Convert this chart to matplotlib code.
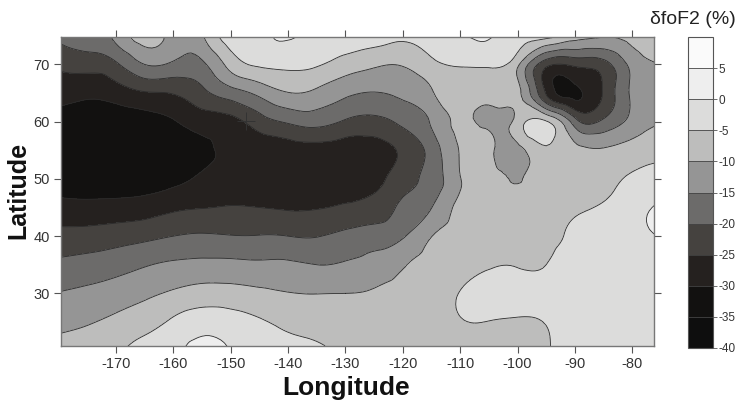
import numpy as np
import matplotlib
matplotlib.use("Agg")
import matplotlib.pyplot as plt
import matplotlib.tri as mtri

plt.rcParams["font.family"] = ["Liberation Sans", "DejaVu Sans"]
plt.rcParams["axes.unicode_minus"] = False

# grid nodes (degrees)
lons = [-180, -175, -170, -165, -160, -155, -150, -145, -140, -135, -130,
        -125, -120, -115, -110, -105, -100, -95, -90, -85, -80, -75]
lats = [75, 70, 65, 60, 55, 50, 45, 40, 35, 30, 25, 20]

# dfoF2 (%) on the grid, one row per latitude
lat75 = [-19, -17.6, -13.8, -6.5, -12.5, -10.5, -1.5, -0.5, 0.5, -1.5, -2, -1.5, -4, -2.5, -0.5, 0.5, -3.5, -3, -8, -9.5, -8.5, -7.5]
lat70 = [-24, -23, -20.8, -15, -16, -16, -8.1, -4.3, -3.8, -4.5, -7.2, -9.2, -9.6, -6.3, -4.5, -4, -9, -23.5, -24, -22, -13.5, -10]
lat65 = [-28.1, -28.9, -27.7, -25.5, -24.7, -21.3, -17.3, -13.7, -10.2, -11.2, -14, -15.2, -14, -10.5, -6.5, -7.5, -8.5, -25.5, -31, -24.5, -14, -12]
lat60 = [-31.5, -32.5, -32.5, -31.5, -30.3, -27.8, -26.5, -22.4, -19.4, -18.2, -20.6, -21.4, -19, -14.5, -9, -11.5, -8, -4.5, -17.7, -19, -13.5, -10.2]
lat55 = [-33.5, -34.5, -34.5, -34, -33, -31.5, -28.5, -28.5, -27.5, -27, -27.5, -27.3, -24, -18, -9.7, -9, -11.5, -6, -8.5, -9.5, -7.5, -6]
lat50 = [-32.5, -33, -33, -32.5, -31.2, -29.1, -27.5, -28.5, -28, -28.3, -28, -27, -22, -18, -10.2, -8, -10.2, -7.5, -7.3, -6.5, -4.5, -3.5]
lat45 = [-28.3, -28.5, -28.2, -27.6, -26, -25.2, -24.7, -25, -25.5, -25.3, -24.4, -22.8, -19.1, -15.1, -8.5, -7.5, -8, -7, -5.8, -4.5, -2, 1]
lat40 = [-23.4, -23.1, -22.3, -21.3, -20, -19.4, -19.8, -19.8, -20, -20.2, -18.6, -17.5, -15.5, -10.1, -7.5, -6.5, -6.5, -6, -4.3, -3, -1.5, 0.2]
lat35 = [-18.9, -18.1, -17, -15.4, -14.2, -13.7, -13.7, -14.1, -14.2, -15, -14.5, -13.3, -10.4, -8, -6.5, -5.3, -5.2, -5, -3, -2.5, -2.5, -2.5]
lat30 = [-14.8, -13.9, -12.6, -11, -9.3, -8, -8.1, -8.9, -9.8, -10.1, -10, -9.4, -8.2, -7.5, -4.8, -3.5, -3.5, -3.5, -2.5, -2.5, -2.5, -2.5]
lat25 = [-11.4, -10.4, -8.9, -6.9, -4.2, -2.1, -2.8, -4.5, -6, -6.8, -7.8, -8, -7.5, -7.5, -5.3, -5.1, -5.5, -4.8, -2.5, -2.5, -2.5, -2.5]
lat20 = [-8, -7.2, -6, -2.5, -1.5, 2.5, -0.2, -2, -3.5, -3.8, -6.5, -7, -7, -7.5, -6.5, -6.5, -7, -5.5, -2.5, -2.5, -2.5, -2.5]

# station marker
station_lon = [-147.4]
station_lat = [60.1]

levels = [-40, -35, -30, -25, -20, -15, -10, -5, 0, 5, 10]
level_labels = ["-40", "-35", "-30", "-25", "-20", "-15", "-10", "-5", "0", "5"]
greys = ["#0e0e0e", "#121110", "#25211f", "#45423f", "#6c6b6a",
         "#959595", "#bdbdbc", "#dcdcdb", "#eeeeee", "#fafafa"]

grid = np.array([lat75, lat70, lat65, lat60, lat55, lat50,
                 lat45, lat40, lat35, lat30, lat25, lat20])
X, Y = np.meshgrid(lons, lats)

tri = mtri.Triangulation(X.ravel(), Y.ravel())
refiner = mtri.UniformTriRefiner(tri)
tri_f, z_f = refiner.refine_field(grid.ravel(), subdiv=3)
z_f = np.clip(z_f, -39.9, 9.9)

fig = plt.figure(figsize=(7.4, 4.03), dpi=100)
ax = fig.add_axes([61 / 740, 57 / 403, 593 / 740, 309 / 403])

cf = ax.tricontourf(tri_f, z_f, levels=levels, colors=greys)
ax.tricontour(tri_f, z_f, levels=levels[1:-1], colors="#2b2b2b",
              linewidths=0.6, linestyles="solid")
ax.plot(station_lon, station_lat, marker="+", markersize=13, mew=0.7,
        color="#333333", linestyle="none")

ax.set_xlim(-179.6, -76.2)
ax.set_ylim(20.8, 74.8)
ax.set_xticks(range(-170, -79, 10))
ax.set_yticks(range(30, 71, 10))
ax.tick_params(direction="out", top=True, right=True, length=5, width=0.8,
               color="#555555", labelcolor="#333333", labelsize=10.5, pad=3)
for sp in ax.spines.values():
    sp.set_color("#777777")
    sp.set_linewidth(1.0)

fig.text(18 / 740, 1 - 190 / 403, "Latitude", rotation=90, fontsize=18,
         fontweight="bold", ha="center", va="center", color="#111111")
fig.text(346 / 740, 1 - 388 / 403, "Longitude", fontsize=19,
         fontweight="bold", ha="center", va="center", color="#111111")

# colour key
cax = fig.add_axes([688 / 740, 55 / 403, 25 / 740, 311 / 403])
cb = fig.colorbar(cf, cax=cax, ticks=levels[:-1], drawedges=True)
cb.dividers.set_color("#444444")
cb.dividers.set_linewidth(0.6)
cb.outline.set_edgecolor("#555555")
cb.outline.set_linewidth(0.8)
cb.ax.set_yticklabels(level_labels)
cb.ax.tick_params(direction="out", length=3, width=0.6, color="#555555",
                  labelsize=8.5, labelcolor="#333333", pad=1)
fig.text(693 / 740, 1 - 20 / 403, "\u03b4foF2 (%)", fontsize=14,
         ha="center", va="center", color="#222222")

fig.savefig("out.png", dpi=100)
